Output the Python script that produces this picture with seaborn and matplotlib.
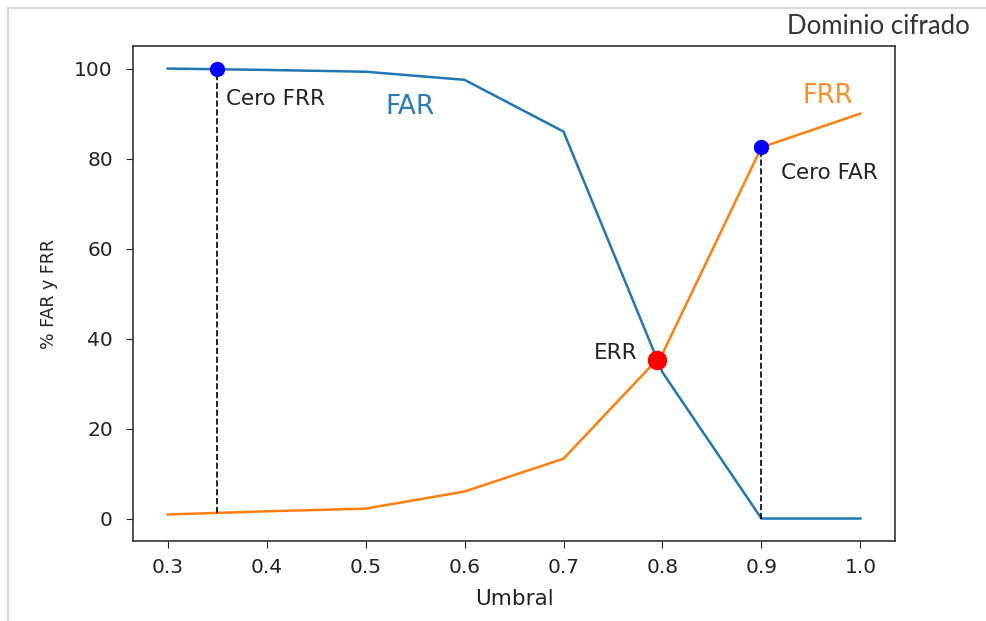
import numpy as np
import matplotlib
matplotlib.use("Agg")
import matplotlib.pyplot as plt
import pandas as pd
import seaborn as sns
from matplotlib.patches import Rectangle

umbral = [0.3, 0.4, 0.5, 0.6, 0.7, 0.8, 0.9, 1.0]
far = [100.0, 99.7, 99.3, 97.5, 86.0, 32.5, 0.0, 0.0]
frr = [0.9, 1.6, 2.2, 6.0, 13.3, 36.6, 82.5, 90.0]

cero_frr = (0.35, 100.0, 1.3)   # x, top, bottom of dashed line
cero_far = (0.9, 82.5, 0.0)
err = (0.7944, 35.3)

df = pd.DataFrame({"umbral": umbral * 2,
                   "valor": far + frr,
                   "curva": ["FAR"] * len(far) + ["FRR"] * len(frr)})

fig = plt.figure(figsize=(9.87, 6.21), dpi=100)
ax = fig.add_axes([0.1348, 0.1288, 0.772, 0.797])

sns.lineplot(data=df, x="umbral", y="valor", hue="curva",
             palette={"FAR": "#1f77b4", "FRR": "#ff7f0e"},
             linewidth=1.8, legend=False, ax=ax)

ax.plot([cero_frr[0], cero_frr[0]], [cero_frr[2], cero_frr[1]], "k--", lw=1.2)
ax.plot([cero_far[0], cero_far[0]], [cero_far[2], cero_far[1]], "k--", lw=1.2)
ax.plot(cero_frr[0], cero_frr[1], "o", color="blue", ms=10)
ax.plot(cero_far[0], cero_far[1], "o", color="blue", ms=10)
ax.plot(err[0], err[1], "o", color="red", ms=13)

ax.text(0.3586, 91.8, "Cero FRR", fontsize=15.5, color="#222222")
ax.text(0.920, 75.5, "Cero FAR", fontsize=15.5, color="#222222")
ax.text(0.731, 35.5, "ERR", fontsize=15.5, color="#222222")
ax.text(0.520, 90.0, "FAR", fontsize=19, color="#2b7bba")
ax.text(0.942, 92.3, "FRR", fontsize=18.5, color="#ff8c2a")

ax.set_xticks([0.3, 0.4, 0.5, 0.6, 0.7, 0.8, 0.9, 1.0])
ax.set_xticklabels(["0.3", "0.4", "0.5", "0.6", "0.7", "0.8", "0.9", "1.0"])
ax.set_yticks([0, 20, 40, 60, 80, 100])
ax.tick_params(labelsize=14.5, length=5, colors="#222222")
ax.tick_params(axis="x", pad=7)
ax.tick_params(axis="y", pad=9.5)
ax.set_xlabel("Umbral", fontsize=15.5, color="#222222", labelpad=9)
ax.set_ylabel("% FAR y FRR", fontsize=12.5, color="#222222", labelpad=12)
for s in ax.spines.values():
    s.set_color("#333333")
    s.set_linewidth(1.2)

# card frame of the screenshot
fig.add_artist(Rectangle((8 / 987, -0.1), 1.5, 1 - 8 / 621 + 0.1,
                         transform=fig.transFigure, fill=False,
                         edgecolor="#d8d8d8", linewidth=1.5))
fig.text(970 / 987, 1 - 27 / 621, "Dominio cifrado", ha="right", va="center",
         fontsize=18.5, family="Lato", color="#333333")

fig.savefig("out.png", dpi=100)
